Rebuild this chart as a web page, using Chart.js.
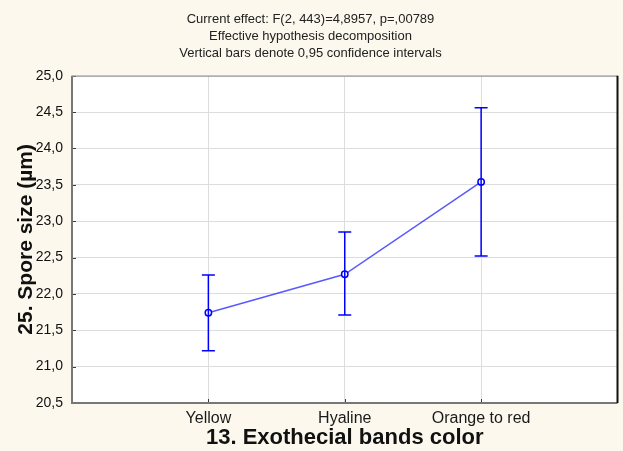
<!DOCTYPE html>
<html>
<head>
<meta charset="utf-8">
<script src="https://cdn.jsdelivr.net/npm/chart.js@4.4.1/dist/chart.umd.min.js"></script>
<style>
  html, body { margin: 0; padding: 0; background: #fdf8ed; }
  #wrap { width: 623px; height: 451px; }
</style>
</head>
<body>
<div id="wrap"><canvas id="sporeChart" width="623" height="451"></canvas></div>
<script>
// data
const categories = ["Yellow", "Hyaline", "Orange to red"];
const means = [21.74, 22.27, 23.54];
const ciLower = [21.22, 21.71, 22.52];
const ciUpper = [22.26, 22.85, 24.56];
const titleLines = [
    "Current effect: F(2, 443)=4,8957, p=,00789",
    "Effective hypothesis decomposition",
    "Vertical bars denote 0,95 confidence intervals"
];
const yMin = 20.5, yMax = 25.0, yStep = 0.5;

const FONT = "'Liberation Sans', Arial, sans-serif";
const BLUE = "#0000ff";

// cream page, white plot area, frame and little inner tick marks
const framePlugin = {
    id: "frame",
    beforeDraw(chart){
        const {ctx, chartArea: a} = chart;
        ctx.save();
        ctx.fillStyle = "#fdf8ed";
        ctx.fillRect(0, 0, chart.width, chart.height);
        ctx.fillStyle = "#ffffff";
        ctx.fillRect(a.left, a.top, a.right - a.left, a.bottom - a.top);
        ctx.restore();
    },
    afterDraw(chart){
        const {ctx, chartArea: a, scales} = chart;
        ctx.save();
        ctx.strokeStyle = "#3a3a3a";
        ctx.lineWidth = 1;
        scales.y.ticks.forEach(t => {
            const py = Math.round(scales.y.getPixelForValue(t.value)) + 0.5;
            ctx.beginPath(); ctx.moveTo(a.left, py); ctx.lineTo(a.left + 4, py); ctx.stroke();
        });
        scales.x.ticks.forEach(t => {
            const px = Math.round(scales.x.getPixelForValue(t.value)) + 0.5;
            ctx.beginPath(); ctx.moveTo(px, a.bottom); ctx.lineTo(px, a.bottom - 4); ctx.stroke();
        });
        ctx.lineWidth = 2;
        ctx.strokeStyle = "#777777";
        ctx.beginPath();
        ctx.moveTo(a.left, a.top); ctx.lineTo(a.left, a.bottom); ctx.lineTo(a.right, a.bottom);
        ctx.stroke();
        ctx.lineWidth = 1;
        ctx.strokeStyle = "#8a8a8a";
        ctx.beginPath(); ctx.moveTo(a.left, a.top + 0.5); ctx.lineTo(a.right, a.top + 0.5); ctx.stroke();
        ctx.lineWidth = 2;
        ctx.strokeStyle = "#111111";
        ctx.beginPath(); ctx.moveTo(a.right, a.top); ctx.lineTo(a.right, a.bottom); ctx.stroke();
        ctx.restore();
    }
};

// vertical confidence-interval bars
const errorBarPlugin = {
    id: "errorBars",
    afterDatasetsDraw(chart){
        const {ctx, scales} = chart;
        ctx.save();
        ctx.strokeStyle = BLUE;
        ctx.lineWidth = 1.5;
        categories.forEach((c, i) => {
            const px = scales.x.getPixelForValue(i + 1);
            const yLo = scales.y.getPixelForValue(ciLower[i]);
            const yHi = scales.y.getPixelForValue(ciUpper[i]);
            ctx.beginPath();
            ctx.moveTo(px, yLo); ctx.lineTo(px, yHi);
            ctx.moveTo(px - 6.5, yLo); ctx.lineTo(px + 6.5, yLo);
            ctx.moveTo(px - 6.5, yHi); ctx.lineTo(px + 6.5, yHi);
            ctx.stroke();
        });
        ctx.restore();
    }
};

const ctx = document.getElementById("sporeChart");

new Chart(ctx, {
    type: "line",
    data: {
        datasets: [{
            data: means.map((m, i) => ({x: i + 1, y: m})),
            borderColor: "rgba(60,60,255,0.85)",
            borderWidth: 1.5,
            pointRadius: 3.2,
            pointBorderWidth: 1.5,
            pointBorderColor: BLUE,
            pointBackgroundColor: "#ffffff",
            tension: 0
        }]
    },
    options: {
        responsive: false,
        animation: false,
        events: [],
        layout: { padding: { right: 2, left: 0, top: 0, bottom: 0 } },
        plugins: {
            legend: { display: false },
            tooltip: { enabled: false },
            title: {
                display: true,
                text: titleLines,
                color: "#222222",
                font: { family: FONT, size: 13, weight: "normal", lineHeight: 1.3 },
                padding: { top: 11, bottom: 14 }
            }
        },
        scales: {
            x: {
                type: "linear",
                min: 0,
                max: categories.length + 1,
                afterBuildTicks: scale => {
                    scale.ticks = categories.map((c, i) => ({value: i + 1}));
                },
                afterFit: scale => { scale.height = 48; },
                ticks: {
                    callback: v => categories[v - 1],
                    color: "#1a1a1a",
                    font: { family: FONT, size: 16 },
                    padding: 6,
                    maxRotation: 0,
                    autoSkip: false
                },
                grid: { color: "#dddddd", lineWidth: 1, drawTicks: false },
                border: { display: false },
                title: {
                    display: true,
                    text: "13. Exothecial bands color",
                    color: "#111111",
                    font: { family: FONT, size: 22, weight: "bold", lineHeight: 1.2 },
                    padding: { top: 0, bottom: 0 }
                }
            },
            y: {
                min: yMin,
                max: yMax,
                afterFit: scale => { scale.width = 72; },
                ticks: {
                    stepSize: yStep,
                    callback: v => v.toFixed(1).replace(".", ","),
                    color: "#111111",
                    font: { family: FONT, size: 14 },
                    padding: 9
                },
                grid: { color: "#dddddd", lineWidth: 1, drawTicks: false },
                border: { display: false },
                title: {
                    display: true,
                    text: "25. Spore size (µm)",
                    color: "#111111",
                    font: { family: FONT, size: 21, weight: "bold", lineHeight: 1.2 },
                    padding: { top: 14, bottom: 0 }
                }
            }
        }
    },
    plugins: [framePlugin, errorBarPlugin]
});
</script>
</body>
</html>
